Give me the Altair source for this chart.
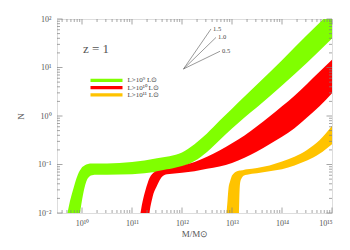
import math
import altair as alt
import pandas as pd

# ---- data (log10 values) ----
# L > 1e9 Lsun (green)
g_logm = [9.69, 9.71, 9.75, 9.80, 9.86, 9.92, 9.96, 9.99, 10.05, 10.12, 10.2, 10.3, 10.5, 11.0, 11.5, 12.0, 12.25, 12.5, 12.75, 13.0, 13.25, 13.5, 14.0, 14.5, 15.0]
g_lo = [-2.3, -2.3, -2.3, -2.3, -2.3, -2.3, -2.0, -1.8, -1.48, -1.28, -1.22, -1.21, -1.21, -1.2, -1.15, -1.05, -0.93, -0.74, -0.5, -0.26, -0.03, 0.18, 0.63, 1.1, 1.6]
g_hi = [-2.1, -2.0, -1.8, -1.6, -1.38, -1.2, -1.12, -1.07, -1.02, -0.99, -0.98, -0.98, -0.98, -0.95, -0.87, -0.75, -0.58, -0.36, -0.1, 0.15, 0.4, 0.65, 1.15, 1.67, 2.17]

# L > 1e10 Lsun (red)
r_logm = [11.14, 11.17, 11.2, 11.26, 11.32, 11.35, 11.4, 11.43, 11.49, 11.55, 11.6, 11.7, 11.8, 12.0, 12.25, 12.5, 12.75, 13.0, 13.25, 13.5, 13.75, 14.0, 14.25, 14.5, 14.75, 15.0]
r_lo = [-2.3, -2.3, -2.3, -2.3, -2.3, -2.0, -1.72, -1.6, -1.46, -1.33, -1.25, -1.2, -1.19, -1.17, -1.14, -1.09, -1.04, -0.97, -0.86, -0.73, -0.58, -0.43, -0.25, -0.03, 0.2, 0.47]
r_hi = [-2.15, -2.0, -1.82, -1.56, -1.36, -1.28, -1.2, -1.17, -1.14, -1.13, -1.12, -1.1, -1.08, -1.03, -0.95, -0.84, -0.71, -0.56, -0.4, -0.21, -0.01, 0.2, 0.42, 0.66, 0.91, 1.16]

# L > 1e11 Lsun (yellow)
y_logm = [12.86, 12.89, 12.91, 12.93, 12.96, 12.99, 13.03, 13.06, 13.1, 13.13, 13.14, 13.16, 13.2, 13.23, 13.3, 13.5, 13.75, 14.0, 14.25, 14.5, 14.75, 15.0]
y_lo = [-2.3, -2.3, -2.3, -2.3, -2.3, -2.3, -2.3, -2.3, -2.3, -2.3, -2.0, -1.4, -1.27, -1.23, -1.21, -1.18, -1.14, -1.1, -1.02, -0.92, -0.78, -0.58]
y_hi = [-2.2, -2.0, -1.75, -1.49, -1.35, -1.25, -1.19, -1.16, -1.14, -1.13, -1.127, -1.125, -1.12, -1.115, -1.1, -1.07, -1.02, -0.94, -0.84, -0.7, -0.5, -0.2]

series_names = ["L>10⁹ L⊙", "L>10¹⁰ L⊙", "L>10¹¹ L⊙"]
series_colors = ["#80FF00", "#FF0000", "#FFC300"]

# slope guide
guide_slopes = [1.5, 1.0, 0.5]
guide_labels = ["1.5", "1.0", "0.5"]
guide_len = [0.55, 0.65, 0.73]
guide_origin = (12.03, 0.97)

x_major = [1e10, 1e11, 1e12, 1e13, 1e14, 1e15]
y_major = [1e-2, 1e-1, 1e0, 1e1, 1e2]

# ---- build tables ----
rows = []
for name, xs, lo, hi in zip(series_names, [g_logm, r_logm, y_logm], [g_lo, r_lo, y_lo], [g_hi, r_hi, y_hi]):
    for x, a, b in zip(xs, lo, hi):
        rows.append({"series": name, "M": 10 ** x, "lo": 10 ** a, "hi": 10 ** b})
df = pd.DataFrame(rows)

gx, gy = guide_origin
guide = pd.DataFrame({
    "x": [10 ** gx] * 3,
    "y": [10 ** gy] * 3,
    "x2": [10 ** (gx + d) for d in guide_len],
    "y2": [10 ** (gy + s * d) for s, d in zip(guide_slopes, guide_len)],
    "label": guide_labels,
})

x_minor = [k * 10 ** n for n in range(9, 15) for k in range(2, 10) if 10 ** 9.5 <= k * 10 ** n <= 1e15]
y_minor = [k * 10 ** n for n in range(-2, 2) for k in range(2, 10)]

SUP = str.maketrans("-0123456789", "⁻⁰¹²³⁴⁵⁶⁷⁸⁹")


def label_expr(values):
    expr = "''"
    for v in reversed(values):
        e = round(math.log10(v))
        lab = "10" + str(e).translate(SUP)
        expr = f"(datum.value > {v * 0.999} && datum.value < {v * 1.001}) ? '{lab}' : ({expr})"
    return expr


W, H = 275, 194
FONT = "Liberation Serif"
AX = "#808080"
TXT = "#555555"
MAJ, MIN = 5.5, 3

xscale = alt.Scale(type="log", domain=[10 ** 9.5, 1e15], nice=False)
yscale = alt.Scale(type="log", domain=[1e-2, 1e2], nice=False)

areas = alt.Chart(df).mark_area(clip=True, interpolate="monotone").encode(
    x=alt.X("M:Q", scale=xscale,
            axis=alt.Axis(orient="bottom", values=x_major, labelExpr=label_expr(x_major), ticks=False,
                          domain=False, grid=False, title="M/M⊙", labelPadding=6, titlePadding=2,
                          labelFont=FONT, labelFontSize=8, labelColor=TXT, titleFont=FONT,
                          titleFontSize=9, titleFontWeight="normal", titleColor=TXT)),
    y=alt.Y("lo:Q", scale=yscale,
            axis=alt.Axis(orient="left", values=y_major, labelExpr=label_expr(y_major), ticks=False,
                          domain=False, grid=False, title="N", labelPadding=6, titlePadding=12,
                          labelFont=FONT, labelFontSize=8, labelColor=TXT, titleFont=FONT,
                          titleFontSize=9, titleFontWeight="normal", titleColor=TXT)),
    y2="hi:Q",
    color=alt.Color("series:N", scale=alt.Scale(domain=series_names, range=series_colors),
                    sort=series_names,
                    legend=alt.Legend(orient="none", legendX=45.5, legendY=57.3, title=None,
                                      symbolType="M-4,-0.4H4V0.4H-4Z", symbolSize=64,
                                      symbolStrokeWidth=0, symbolOpacity=1, labelOffset=17,
                                      labelFont=FONT, labelFontSize=7, labelColor="#444444",
                                      rowPadding=0.3, padding=0)),
)

xt_major = pd.DataFrame({"v": x_major})
xt_minor = pd.DataFrame({"v": x_minor})
yt_major = pd.DataFrame({"v": y_major})
yt_minor = pd.DataFrame({"v": y_minor})


def xticks(data, size):
    base = alt.Chart(data).mark_rule(color=AX, strokeWidth=0.7)
    xe = alt.X("v:Q", scale=xscale, axis=None)
    bottom = base.encode(x=xe, y=alt.value(H), y2=alt.value(H - size))
    top = base.encode(x=xe, y=alt.value(0), y2=alt.value(size))
    return [bottom, top]


def yticks(data, size):
    base = alt.Chart(data).mark_rule(color=AX, strokeWidth=0.7)
    ye = alt.Y("v:Q", scale=yscale, axis=None)
    left = base.encode(y=ye, x=alt.value(0), x2=alt.value(size))
    right = base.encode(y=ye, x=alt.value(W), x2=alt.value(W - size))
    return [left, right]


guide_rules = alt.Chart(guide).mark_rule(color="#555555", strokeWidth=0.6).encode(
    x=alt.X("x:Q", scale=xscale, axis=None),
    y=alt.Y("y:Q", scale=yscale, axis=None),
    x2="x2:Q",
    y2="y2:Q",
)
guide_text = alt.Chart(guide).mark_text(align="left", baseline="middle", dx=2, font=FONT, fontSize=6.5,
                                        color="#444444").encode(
    x=alt.X("x2:Q", scale=xscale, axis=None),
    y=alt.Y("y2:Q", scale=yscale, axis=None),
    text="label:N",
)
ztext = alt.Chart(pd.DataFrame({"t": ["z = 1"]})).mark_text(
    align="left", baseline="alphabetic", font=FONT, fontSize=13, color="#555555"
).encode(x=alt.value(26), y=alt.value(34), text="t:N")

chart = alt.layer(
    areas,
    *xticks(xt_major, MAJ),
    *xticks(xt_minor, MIN),
    *yticks(yt_major, MAJ),
    *yticks(yt_minor, MIN),
    guide_rules,
    guide_text,
    ztext,
).resolve_axis(x="independent", y="independent").properties(
    width=W, height=H,
    autosize=alt.AutoSizeParams(type="none"),
    padding={"left": 49, "top": 11, "right": 10, "bottom": 33},
).configure_view(stroke=AX, strokeWidth=0.8).configure(background="white")

chart.save("out.html", embed_options={"renderer": "svg", "actions": False})
